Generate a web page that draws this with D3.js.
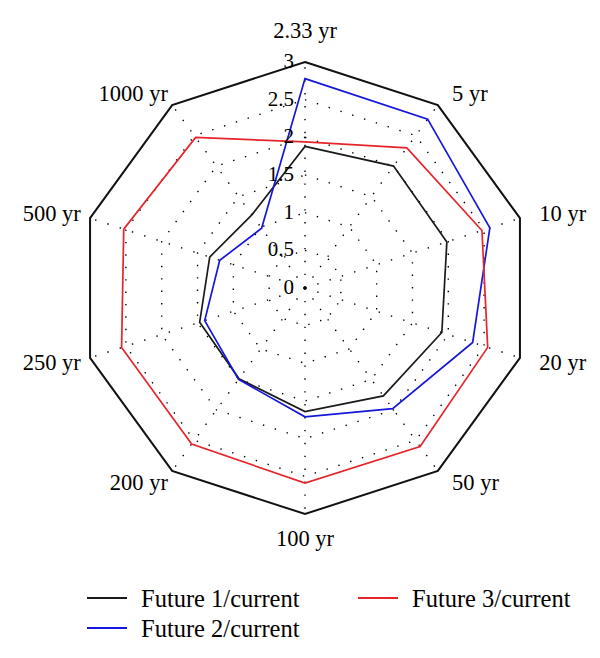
<!DOCTYPE html>
<html>
<head>
<meta charset="utf-8">
<script src="https://cdn.jsdelivr.net/npm/d3@7"></script>
<style>
  html, body { margin: 0; padding: 0; background: #fff; }
  svg { display: block; }
  text { font-family: "Liberation Serif", "Times New Roman", serif; fill: #000; }
</style>
</head>
<body>
<svg id="chart" width="600" height="658"></svg>
<script>
const categories = ["2.33 yr", "5 yr", "10 yr", "20 yr", "50 yr", "100 yr", "200 yr", "250 yr", "500 yr", "1000 yr"];
const future1 = [1.88, 2.0, 1.98, 1.91, 1.77, 1.64, 1.49, 1.47, 1.33, 1.2];
const future2 = [2.78, 2.77, 2.58, 2.34, 1.98, 1.71, 1.5, 1.4, 1.19, 0.98];
const future3 = [1.94, 2.3, 2.47, 2.55, 2.6, 2.59, 2.56, 2.56, 2.53, 2.47];
const seriesNames = ["Future 1/current", "Future 2/current", "Future 3/current"];
const tickValues = [0, 0.5, 1, 1.5, 2, 2.5, 3];
const tickLabels = ["0", "0.5", "1", "1.5", "2", "2.5", "3"];

const seriesColors = ["#1a1a1a", "#1616dc", "#e5252a"];
const cx = 305, cy = 288;
const svg = d3.select("#chart");
const g = svg.append("g").attr("transform", `translate(${cx},${cy})`);

const r = d3.scaleLinear().domain([0, 3]).range([0, 226]);
const ang = d3.scaleLinear().domain([0, categories.length]).range([0, 2 * Math.PI]);

const ring = d3.lineRadial()
  .angle((d, i) => ang(i))
  .radius(d => r(d))
  .curve(d3.curveLinearClosed);

// dotted grid rings
tickValues.filter(v => v > 0 && v < 3).forEach(v => {
  g.append("path")
    .attr("d", ring(categories.map(() => v)))
    .attr("fill", "none")
    .attr("stroke", "#000")
    .attr("stroke-width", 1.4)
    .attr("stroke-dasharray", "1.4 11");
});

// dotted spokes
categories.forEach((c, i) => {
  const a = ang(i);
  g.append("line")
    .attr("x1", 0).attr("y1", 0)
    .attr("x2", r(3) * Math.sin(a)).attr("y2", -r(3) * Math.cos(a))
    .attr("stroke", "#000")
    .attr("stroke-width", 1.4)
    .attr("stroke-dasharray", "1.4 11.5");
});
g.append("circle").attr("r", 1.8).attr("fill", "#000");

// outer solid ring
g.append("path")
  .attr("d", ring(categories.map(() => 3)))
  .attr("fill", "none")
  .attr("stroke", "#111")
  .attr("stroke-width", 2);

// series
[future1, future2, future3].forEach((s, k) => {
  g.append("path")
    .attr("d", ring(s))
    .attr("fill", "none")
    .attr("stroke", seriesColors[k])
    .attr("stroke-width", 1.7)
    .attr("stroke-linejoin", "miter");
});

// tick labels
tickValues.forEach((v, i) => {
  g.append("text")
    .attr("x", -11)
    .attr("y", -r(v) - 1)
    .attr("text-anchor", "end")
    .attr("dominant-baseline", "central")
    .attr("font-size", 21)
    .text(tickLabels[i]);
});

// category labels
categories.forEach((c, i) => {
  const a = ang(i);
  const s = Math.sin(a), co = Math.cos(a);
  let rl = 240;
  if (Math.abs(s) < 0.1) rl = co > 0 ? 258 : 250;
  const anchor = Math.abs(s) < 0.1 ? "middle" : (s > 0 ? "start" : "end");
  g.append("text")
    .attr("x", rl * s + (Math.abs(s) < 0.1 ? 0 : (s > 0 ? 6 : 4)))
    .attr("y", -rl * co)
    .attr("text-anchor", anchor)
    .attr("dominant-baseline", "central")
    .attr("font-size", 22.5)
    .text(c);
});

// legend
const legendItems = [
  { name: seriesNames[0], color: seriesColors[0], x: 87, y: 598 },
  { name: seriesNames[1], color: seriesColors[1], x: 87, y: 628 },
  { name: seriesNames[2], color: seriesColors[2], x: 358, y: 598 }
];
const lg = svg.append("g");
legendItems.forEach(d => {
  lg.append("line")
    .attr("x1", d.x).attr("x2", d.x + 40)
    .attr("y1", d.y).attr("y2", d.y)
    .attr("stroke", d.color).attr("stroke-width", 2);
  lg.append("text")
    .attr("x", d.x + 54).attr("y", d.y)
    .attr("dominant-baseline", "central")
    .attr("font-size", 24.5)
    .text(d.name);
});
</script>
</body>
</html>
